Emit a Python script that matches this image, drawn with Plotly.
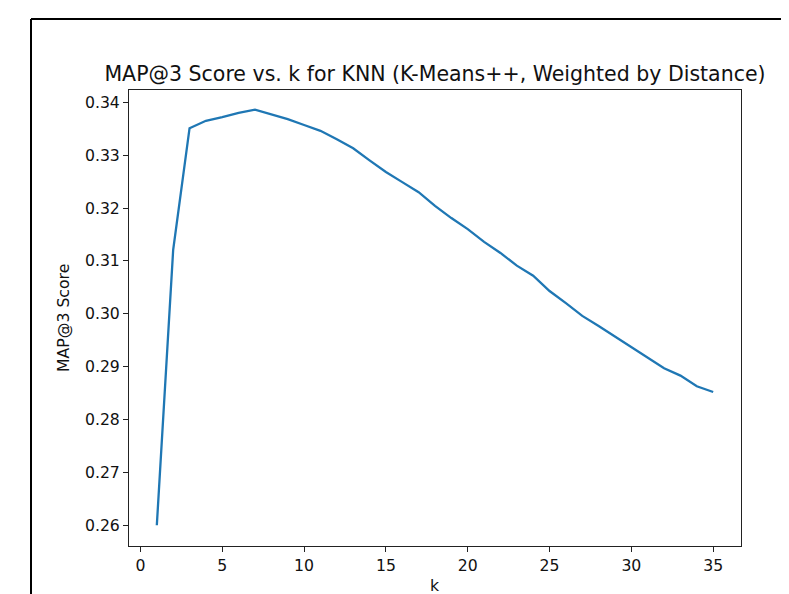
import plotly.graph_objects as go

k_values = list(range(1, 36))
map3_scores = [
    0.2600, 0.3121, 0.3351, 0.3365, 0.3372, 0.3380, 0.3386, 0.3377, 0.3368, 0.3357,
    0.3346, 0.3330, 0.3313, 0.3290, 0.3268, 0.3249, 0.3230, 0.3204, 0.3181, 0.3160,
    0.3136, 0.3115, 0.3091, 0.3072, 0.3043, 0.3020, 0.2996, 0.2977, 0.2957, 0.2938,
    0.2917, 0.2897, 0.2883, 0.2863, 0.2852,
]
x_ticks = [0, 5, 10, 15, 20, 25, 30, 35]
y_ticks = [0.26, 0.27, 0.28, 0.29, 0.30, 0.31, 0.32, 0.33, 0.34]

W, H = 789, 594
OFF = 8  # page body margin offset
L, R, T, B = 129 - OFF, 741 - OFF, 90 - OFF, 546 - OFF
pw, ph = R - L, B - T

fig = go.Figure()
fig.add_trace(go.Scatter(
    x=k_values, y=map3_scores, mode="lines",
    line=dict(color="#1f77b4", width=2.3),
    showlegend=False,
))

font = "DejaVu Sans, Liberation Sans, sans-serif"
txt = "#111111"
axis_common = dict(
    showline=True, mirror=True, linecolor="#222222", linewidth=1,
    ticks="outside", ticklen=5, tickwidth=1, tickcolor="#222222",
    showgrid=False, zeroline=False, automargin=False,
    tickfont=dict(family=font, size=15.7, color=txt),
)

fig.update_layout(
    width=W, height=H,
    margin=dict(l=L, r=W - R, t=T, b=H - B, autoexpand=False),
    paper_bgcolor="white", plot_bgcolor="white",
    title=dict(
        text="MAP@3 Score vs. k for KNN (K-Means++, Weighted by Distance)",
        x=(L + R) / 2 / W, xanchor="center",
        y=1 - (74 - OFF) / H, yanchor="middle",
        font=dict(family=font, size=20.5, color=txt),
    ),
    xaxis=dict(axis_common, range=[-0.7, 36.7], tickvals=x_ticks),
    yaxis=dict(axis_common, range=[0.25608, 0.34232], tickvals=y_ticks, tickformat=".2f"),
)

fig.add_annotation(
    text="k", xref="paper", yref="paper",
    x=0.5, y=(B - (585 - OFF)) / ph, xanchor="center", yanchor="middle",
    showarrow=False, font=dict(family=font, size=15.7, color=txt),
)
fig.add_annotation(
    text="MAP@3 Score", xref="paper", yref="paper",
    x=((63 - OFF) - L) / pw, y=0.5, xanchor="center", yanchor="middle",
    textangle=-90, showarrow=False, font=dict(family=font, size=15.7, color=txt),
)

# outer black frame of the figure image (only top and left edges are visible)
fx0 = ((31 - OFF) - L) / pw
fy1 = 1 + (T - (19 - OFF)) / ph
fig.add_shape(
    type="line", xref="paper", yref="paper",
    x0=fx0, x1=(1000 - L) / pw, y0=fy1, y1=fy1,
    line=dict(color="black", width=2), layer="above",
)
fig.add_shape(
    type="line", xref="paper", yref="paper",
    x0=fx0, x1=fx0, y0=fy1, y1=(B - 800) / ph,
    line=dict(color="black", width=2), layer="above",
)

fig.write_html("out.html")
